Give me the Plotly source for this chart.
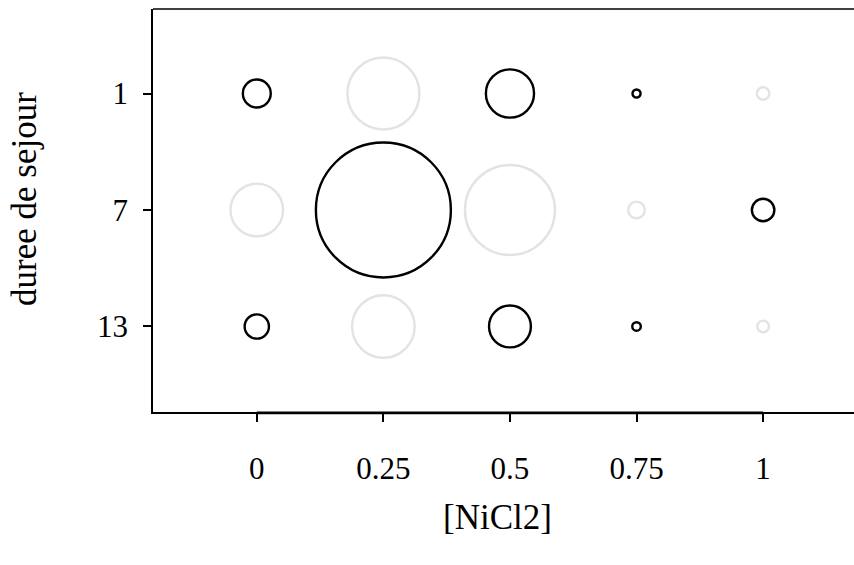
import plotly.graph_objects as go

# Concentration levels (columns) and residence times (rows)
nicl2 = [0, 0.25, 0.5, 0.75, 1]
sejour = ["1", "7", "13"]

# Signed cell values, one list per residence time
val_1 = [0.62, -1.60, 1.07, 0.18, -0.28]
val_7 = [-1.17, 3.00, -2.00, -0.37, 0.50]
val_13 = [0.54, -1.39, 0.93, 0.19, -0.26]

rows = [val_1, val_7, val_13]

xs, ys, vals = [], [], []
for i, row in enumerate(rows):
    for j, v in enumerate(row):
        xs.append(nicl2[j])
        ys.append(i + 1)
        vals.append(v)

PX_PER_UNIT = 45.0  # circle diameter in px per unit of |value|
FONT = "Liberation Serif, Times New Roman, serif"
PLOT_H = 403

fig = go.Figure()
for positive, col in [(False, "#e3e3e3"), (True, "#000000")]:
    sx = [x for x, v in zip(xs, vals) if (v > 0) == positive]
    sy = [y for y, v in zip(ys, vals) if (v > 0) == positive]
    sv = [abs(v) for v in vals if (v > 0) == positive]
    fig.add_trace(go.Scatter(
        x=sx, y=sy, mode="markers",
        marker=dict(size=sv, sizemode="diameter", sizeref=1 / PX_PER_UNIT,
                    opacity=1, color="rgba(0,0,0,0)",
                    line=dict(color=col, width=2.4)),
        showlegend=False, hoverinfo="skip", cliponaxis=False,
    ))

fig.update_layout(
    width=854, height=565,
    margin=dict(l=153, r=0, t=9, b=153),
    plot_bgcolor="white", paper_bgcolor="white",
    font=dict(family=FONT, size=31, color="black"),
    xaxis=dict(
        range=[-0.205, 1.1795], tickvals=nicl2,
        ticktext=["0", "0.25", "0.5", "0.75", "1"],
        showgrid=False, zeroline=False, showline=True, linecolor="black",
        linewidth=1.5, ticks="outside", ticklen=8, tickwidth=2, tickcolor="black",
        ticklabelstandoff=20,
    ),
    yaxis=dict(
        range=[3.734, 0.2747], tickvals=[1, 2, 3], ticktext=sejour,
        showgrid=False, zeroline=False, showline=True, linecolor="black",
        linewidth=1.5, ticks="outside", ticklen=8, tickwidth=2, tickcolor="black",
        ticklabelstandoff=9,
    ),
    shapes=[
        # top border of the box
        dict(type="line", xref="paper", yref="paper", x0=0, x1=1, y0=1, y1=1,
             line=dict(color="black", width=1.5)),
        # axis line drawn across the tick span
        dict(type="line", xref="x", yref="paper", x0=nicl2[0], x1=nicl2[-1],
             y0=-0.9 / PLOT_H, y1=-0.9 / PLOT_H,
             line=dict(color="black", width=2.6)),
    ],
    annotations=[
        dict(text="[NiCl2]", xref="paper", yref="paper", x=(497 - 153) / 701,
             y=-(517 - 412) / PLOT_H, showarrow=False, xanchor="center",
             yanchor="middle", font=dict(family=FONT, size=35)),
        dict(text="duree de sejour", xref="paper", yref="paper",
             x=-(153 - 24) / 701, y=(412 - 199) / PLOT_H, showarrow=False,
             textangle=-90, xanchor="center", yanchor="middle",
             font=dict(family=FONT, size=35)),
    ],
)

fig.write_html("out.html")
